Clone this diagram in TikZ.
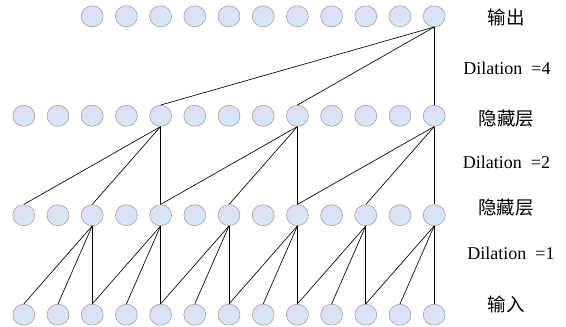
\documentclass[tikz,border=0pt]{standalone}
\usepackage{fontspec}
\setmainfont{Liberation Serif}
\newfontfamily\cjk{Noto Sans CJK SC}
\usetikzlibrary{shapes.geometric}
\definecolor{lavc}{RGB}{226,220,242}
\definecolor{bluec}{RGB}{210,233,247}
\definecolor{rimc}{RGB}{150,150,155}
\begin{document}
\begin{tikzpicture}[x=1pt,y=-1pt,
  neuron/.style={ellipse, draw=rimc, line width=0.5pt, minimum width=22pt, minimum height=21pt, inner sep=0pt, top color=lavc, bottom color=bluec, shading angle=35},
  conn/.style={line width=0.65pt, draw=black},
  cjklab/.style={font=\cjk\fontsize{18.5}{19}\selectfont, inner sep=0pt},
  dlab/.style={font=\fontsize{18}{19}\selectfont, inner sep=0pt}]
\useasboundingbox (0,0) rectangle (566,327);
\foreach \i in {0,...,12} {
  \node[neuron] (in\i) at ({23.8+34.2*\i},314.7) {};
  \node[neuron] (ha\i) at ({23.8+34.2*\i},215.2) {};
  \node[neuron] (hb\i) at ({23.8+34.2*\i},115.8) {};
}
\foreach \i in {2,...,12} {
  \node[neuron] (out\i) at ({23.8+34.2*\i},16.3) {};
}
\foreach \c in {2,4,...,12} {
  \foreach \d in {0,1,2} {
    \pgfmathtruncatemacro\s{\c-\d}
    \draw[conn] (ha\c.south) -- (in\s.north);
  }
}
\foreach \c in {4,8,12} {
  \foreach \d in {0,2,4} {
    \pgfmathtruncatemacro\s{\c-\d}
    \draw[conn] (hb\c.south) -- (ha\s.north);
  }
}
\foreach \d in {0,4,8} {
  \pgfmathtruncatemacro\s{12-\d}
  \draw[conn] (out12.south) -- (hb\s.north);
}
% labels
\node[cjklab] (lout) at (506,17.5) {输出};
\node[dlab] (ld4) at (507,68) {Dilation\hspace{0.25em} =4};
\node[cjklab] (lhb) at (506.5,118.5) {隐藏层};
\node[dlab] (ld2) at (506.5,162.5) {Dilation\hspace{0.25em} =2};
\node[cjklab] (lha) at (506,207.5) {隐藏层};
\node[dlab] (ld1) at (511,253) {Dilation\hspace{0.25em} =1};
\node[cjklab] (lin) at (506,304) {输入};
\end{tikzpicture}
\end{document}
